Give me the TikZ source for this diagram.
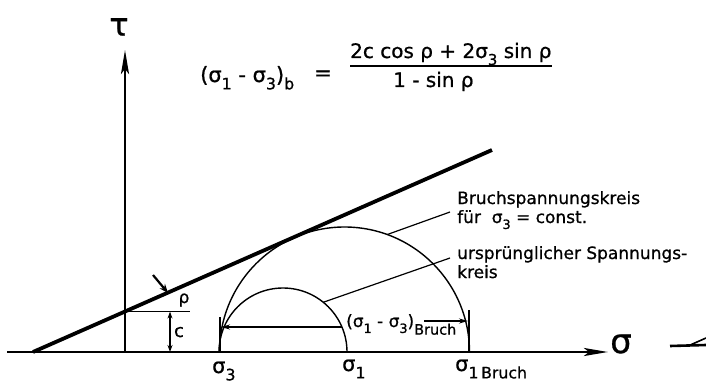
\documentclass[tikz,border=0pt]{standalone}
\usepackage{fontspec}
\setmainfont{DejaVu Sans}[FakeBold=0.8]
\usetikzlibrary{arrows.meta,calc}
\newcommand\lsub[1]{\raisebox{-0.35em}{\scalebox{0.75}{#1}}}
\newcommand\fs[1]{\fontsize{#1}{#1}\selectfont}
\begin{document}
\begin{tikzpicture}[x=1pt,y=-1pt,
  axisline/.style={line width=2.6pt,-{Stealth[length=24pt,width=8pt,inset=5pt]}},
  failline/.style={line width=3.8pt},
  circline/.style={line width=1.4pt},
  leader/.style={line width=1.2pt},
  dimarrow/.style={line width=1.3pt,-{Stealth[length=9pt,width=5pt]}},
  lbl/.style={inner sep=0pt,font=\fs{17}},
  every node/.style={inner sep=0pt},
]
\useasboundingbox (0,0) rectangle (706,385);
\fill[white] (0,0) rectangle (706,385);

% axes
\coordinate (xl) at (7,352);
\coordinate (xr) at (608,352);
\coordinate (O) at (125,352);
\coordinate (yt) at (125,50);
\draw[axisline] (xl) -- (xr);
\draw[axisline] (O) -- (yt);
\node[font=\fs{32}] (tau) at (119,27) {τ};
\node[font=\fs{34}] (sig) at (621,344) {σ};

% failure line
\coordinate (F0) at (33,352);
\coordinate (F1) at (492,150);
\draw[failline] (F0) -- (F1);

% cohesion c
\coordinate (C) at (125,311.6);
\coordinate (Ce) at (190,311.6);
\draw[line width=1.6pt] (C) -- (Ce);
\coordinate (ct) at (170,311.6);
\coordinate (cb) at (170,352);
\draw[line width=1.4pt,{Stealth[length=7pt,width=5pt]}-{Stealth[length=7pt,width=5pt]}] (ct) -- (cb);
\node[font=\fs{18},anchor=base] (clab) at (179,337) {c};
\node[font=\fs{17},anchor=base] (rholab) at (184,303) {ρ};
\coordinate (ra) at (153,275);
\coordinate (rb) at (168,293);
\draw[line width=2.2pt,-{Stealth[length=9pt,width=7pt]}] (ra) -- (rb);

% circles
\coordinate (c1) at (283,352);
\coordinate (c2) at (344.5,352);
\draw[circline] (219,352) arc[start angle=180,end angle=360,radius=64];
\draw[circline] (219.5,352) arc[start angle=180,end angle=360,radius=125];

% ticks and dimension
\coordinate (tl0) at (220,352);
\coordinate (tl1) at (220,317);
\coordinate (tr0) at (469,352);
\coordinate (tr1) at (469,310);
\draw[circline] (tl0) -- (tl1);
\draw[circline] (tr0) -- (tr1);
\node[font=\fs{17},anchor=base west] (dlab) at (346,327) {(σ\lsub{1} - σ\lsub{3})\raisebox{-0.45em}{\scalebox{0.85}{Bruch}}};
\coordinate (dl) at (342,327);
\coordinate (dle) at (221,327);
\coordinate (dr) at (424,321);
\coordinate (dre) at (468,321);
\draw[dimarrow] (dl) -- (dle);
\draw[dimarrow] (dr) -- (dre);

% axis point labels
\node[font=\fs{21},anchor=base west] (s3) at (212,373) {σ\lsub{3}};
\node[font=\fs{21},anchor=base west] (s1) at (342,371) {σ\lsub{1}};
\node[font=\fs{21},anchor=base west] (s1b) at (455,371) {σ\lsub{1\,Bruch}};

% leader labels
\node[lbl,anchor=base west] (t1) at (457,204) {Bruchspannungskreis};
\node[lbl,anchor=base west] (t2) at (457,223) {für\ \ σ\lsub{3} = const.};
\node[lbl,anchor=base west] (t3) at (457,259) {ursprünglicher Spannungs-};
\node[lbl,anchor=base west] (t4) at (457,278) {kreis};
\coordinate (p2) at ($(c2)+(290:125)$);
\coordinate (p1) at ($(c1)+(309:64)$);
\coordinate (q2) at (450,212);
\coordinate (q1) at (450,258);
\draw[leader] (p2) -- (q2);
\draw[leader] (p1) -- (q1);

% formula
\node[font=\fs{21},anchor=base west] (fl) at (200,82) {(σ\lsub{1} - σ\lsub{3})\lsub{b}};
\node[font=\fs{21},anchor=base] (feq) at (323,80) {=};
\node[font=\fs{20},anchor=base west] (fn) at (350,58) {2c cos ρ + 2σ\lsub{3} sin ρ};
\node[font=\fs{20},anchor=base west] (fd) at (393,87) {1 - sin ρ};
\coordinate (b0) at (350,66);
\coordinate (b1) at (552,66);
\draw[line width=1.5pt] (b0) -- (b1);

% fragment at right edge
\coordinate (g0) at (670,346);
\coordinate (g1) at (706,345);
\coordinate (g2) at (688,346);
\coordinate (g3) at (706,338);
\draw[line width=2.6pt] (g0) -- (g1);
\draw[line width=1.6pt] (g2) -- (g3);
\end{tikzpicture}
\end{document}
